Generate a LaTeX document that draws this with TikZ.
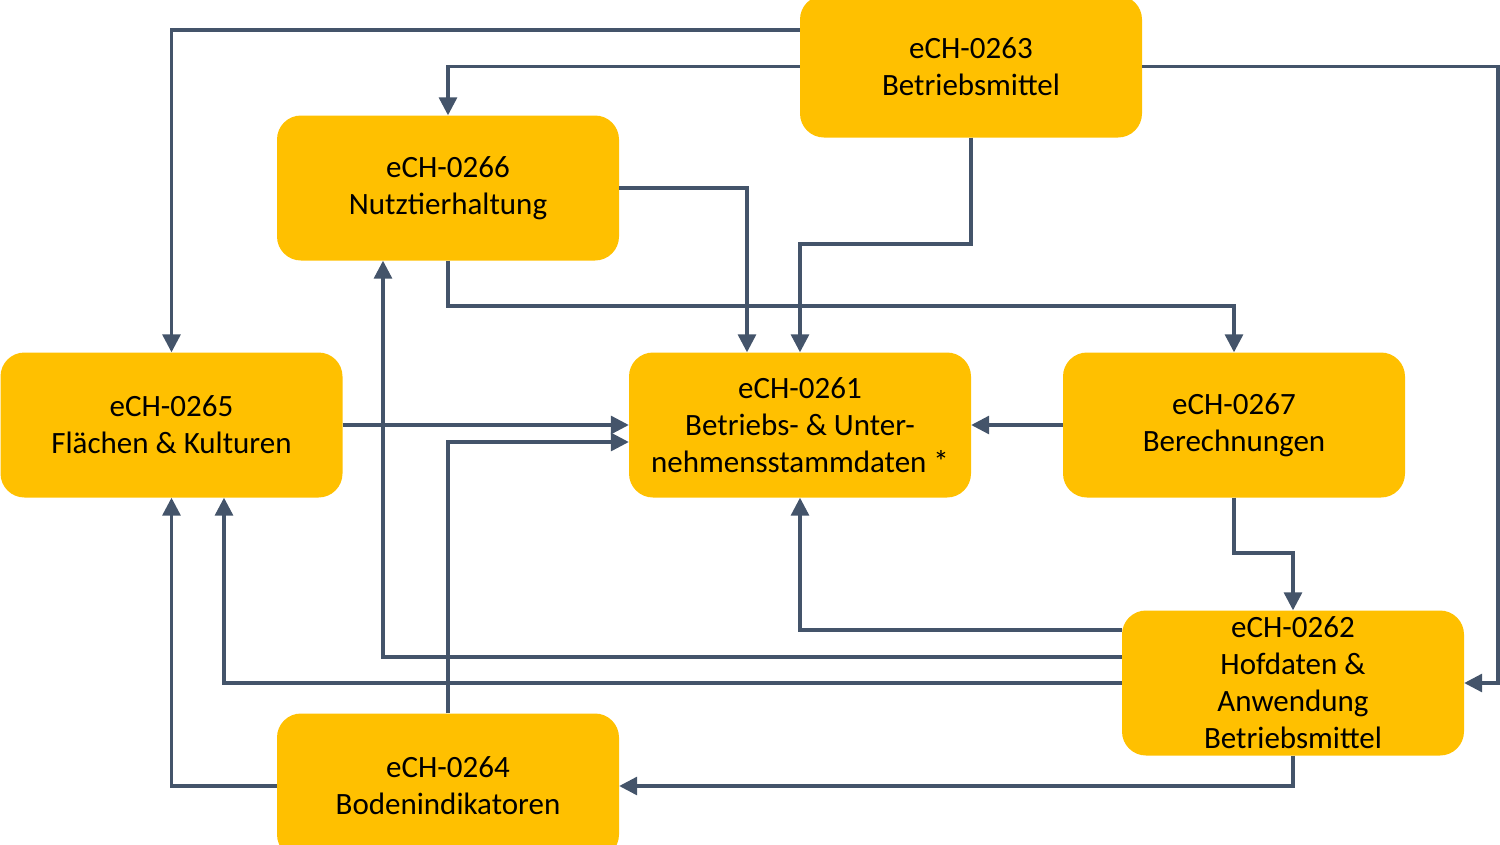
\documentclass[tikz,border=0pt]{standalone}
\usepackage{fontspec}
\setmainfont{Carlito}
\usetikzlibrary{arrows.meta}
\definecolor{boxfill}{HTML}{FFC000}
\definecolor{linecol}{HTML}{44546A}
\tikzset{
  ebox/.style={draw=none, fill=boxfill, rounded corners=24pt, minimum width=342pt, minimum height=145pt, inner sep=0pt, align=center, font=\fontsize{31pt}{37pt}\selectfont, text=black},
  conn/.style={draw=linecol, line width=3.2pt, -{Triangle[length=18pt,width=18pt]}},
}
\begin{document}
\begin{tikzpicture}[x=1pt,y=-1pt]
\useasboundingbox (0,0) rectangle (1500,844);
\node[ebox, minimum height=142pt] (n263) at (971,66.5) {eCH-0263\\Betriebsmittel};
\node[ebox] (n266) at (448,188) {eCH-0266\\Nutztierhaltung};
\node[ebox] (n265) at (171.5,425) {eCH-0265\\Flächen \& Kulturen};
\node[ebox] (n261) at (800,425) {eCH-0261\\Betriebs- \& Unter-\\nehmensstammdaten *};
\node[ebox] (n267) at (1234,425) {eCH-0267\\Berechnungen};
\node[ebox] (n262) at (1293,683) {eCH-0262\\Hofdaten \&\\Anwendung\\Betriebsmittel};
\node[ebox] (n264) at (448,786) {eCH-0264\\Bodenindikatoren};
\coordinate (r) at (1498,0);
% from 0263
\draw[conn] (n263.west |- 0,30) -| (n265.north);
\draw[conn] (n263.west) -| (n266.north);
\draw[conn] (n263.east) -| (r |- n262.east) -- (n262.east);
\draw[conn] (n263.south) -- (n263.south |- 0,244) -| (n261.north);
% from 0266
\draw[conn] (n266.east) -| (n261.north -| 747,0);
\draw[conn] (n266.south) -- (n266.south |- 0,306) -| (n267.north);
% into 0261
\draw[conn] (n265.east) -- (n261.west);
\draw[conn] (n264.north) |- (n261.west |- 0,442);
\draw[conn] (n267.west) -- (n261.east);
\draw[conn] (n267.south) -- (n267.south |- 0,553) -| (n262.north);
% from 0262
\draw[conn] (n262.west |- 0,630) -| (n261.south);
\draw[conn] (n262.west |- 0,657) -| (n266.south -| 383,0);
\draw[conn] (n262.west |- 0,683) -| (n265.south -| 224,0);
\draw[conn] (n262.south) |- (n264.east);
% from 0264
\draw[conn] (n264.west) -| (n265.south);
\end{tikzpicture}
\end{document}
